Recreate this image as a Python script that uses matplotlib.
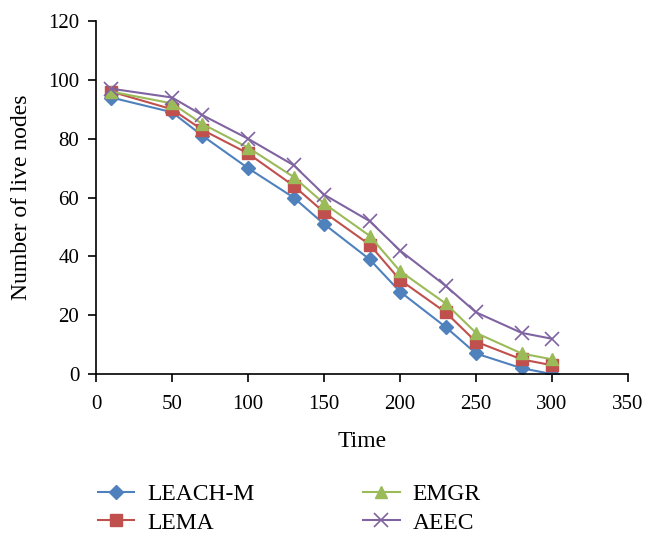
import matplotlib
matplotlib.use("Agg")
import matplotlib.pyplot as plt

time = [10, 50, 70, 100, 130, 150, 180, 200, 230, 250, 280, 300]
leach_m = [94, 89, 81, 70, 60, 51, 39, 28, 16, 7, 2, 0]
lema = [96, 90, 83, 75, 64, 55, 44, 32, 21, 11, 5, 3]
emgr = [96, 92, 85, 77, 67, 58, 47, 35, 24, 14, 7, 5]
aeec = [97, 94, 88, 80, 71, 61, 52, 42, 30, 21, 14, 12]

plt.rcParams['font.family'] = ['Liberation Serif', 'DejaVu Serif']

fig = plt.figure(figsize=(6.6, 5.39), dpi=100)
ax = fig.add_axes([0.1455, 0.306, 0.806, 0.655])

ax.plot(time, leach_m, color='#4F81BD', marker='D', markersize=7, lw=1.5, label='LEACH-M')
ax.plot(time, lema, color='#C0504D', marker='s', markersize=8, lw=1.5, label='LEMA')
ax.plot(time, emgr, color='#9BBB59', marker='^', markersize=8, lw=1.5, label='EMGR')
ax.plot(time, aeec, color='#8064A2', marker='x', markersize=10, mew=1.2, lw=1.5, label='AEEC')

ax.set_xlim(0, 350)
ax.set_ylim(0, 120)
ax.set_xticks(range(0, 351, 50))
ax.set_yticks(range(0, 121, 20))
ax.spines['top'].set_visible(False)
ax.spines['right'].set_visible(False)
ax.spines['left'].set_linewidth(1.2)
ax.spines['bottom'].set_linewidth(1.2)
ax.tick_params(direction='out', length=6, width=1.2, labelsize=15)
ax.tick_params(axis='x', pad=9)
ax.tick_params(axis='y', pad=6)
ax.set_xlabel('Time', fontsize=17, labelpad=12)
ax.set_ylabel('Number of live nodes', fontsize=17, labelpad=12)

fig.legend(loc='lower left', bbox_to_anchor=(0.13, -0.012), ncol=2, frameon=False,
           fontsize=17, borderpad=0, columnspacing=4.6, handlelength=1.55,
           handletextpad=0.55, labelspacing=0.3)

fig.savefig('out.png', dpi=100)
